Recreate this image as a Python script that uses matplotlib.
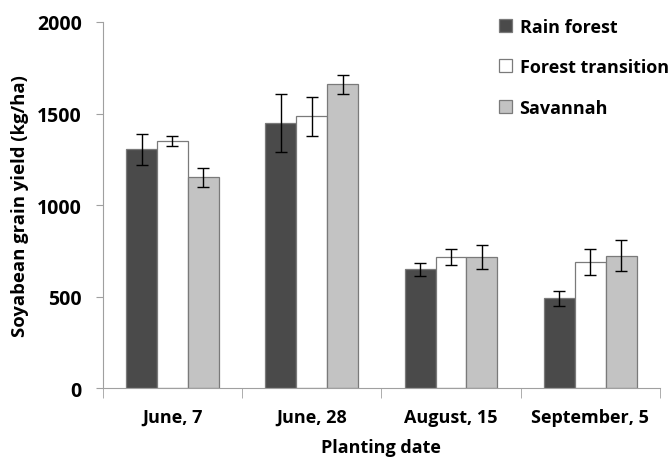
import numpy as np
import matplotlib
matplotlib.use("Agg")
import matplotlib.pyplot as plt

# ---- data ----
dates = ["June, 7", "June, 28", "August, 15", "September, 5"]
series = ["Rain forest", "Forest transition", "Savannah"]

rain_forest = [1305, 1448, 649, 490]
forest_transition = [1351, 1485, 717, 687]
savannah = [1151, 1659, 717, 723]

rain_err = [85, 160, 35, 43]
transition_err = [28, 105, 45, 71]
savannah_err = [50, 54, 67, 85]

values = [rain_forest, forest_transition, savannah]
errors = [rain_err, transition_err, savannah_err]
colors = ["#4a4a4a", "#ffffff", "#c3c3c3"]

plt.rcParams["font.family"] = ["Open Sans", "DejaVu Sans"]
plt.rcParams["font.weight"] = "bold"

fig = plt.figure(figsize=(6.72, 4.6), dpi=100)
ax = fig.add_axes([0.153, 0.154, 0.829, 0.796])

x = np.arange(len(dates))
width = 0.222
for i, (vals, errs, col) in enumerate(zip(values, errors, colors)):
    ax.bar(x + (i - 1) * width, vals, width, color=col, edgecolor="#7a7a7a",
           linewidth=0.9, label=series[i], zorder=2,
           yerr=errs, error_kw=dict(ecolor="black", elinewidth=1.0,
                                    capsize=4, capthick=1.0))

ax.set_xlim(-0.5, len(dates) - 0.5)
ax.set_ylim(0, 2000)
ax.set_yticks([0, 500, 1000, 1500, 2000])
ax.set_xticks(x)
ax.set_xticklabels(dates)
ax.set_xticks(np.arange(-0.5, len(dates)), minor=True)
ax.tick_params(axis="x", which="major", length=0, pad=14, labelsize=13)
ax.tick_params(axis="x", which="minor", length=7, color="#a0a0a0")
ax.tick_params(axis="y", length=5, color="#a0a0a0", labelsize=14, pad=10)

for s in ["top", "right"]:
    ax.spines[s].set_visible(False)
for s in ["left", "bottom"]:
    ax.spines[s].set_color("#a0a0a0")

ax.set_ylabel("Soyabean grain yield (kg/ha)", fontsize=13.3, fontweight="bold",
              labelpad=6)
ax.set_xlabel("Planting date", fontsize=13, fontweight="bold", labelpad=9)

fig.legend(loc="upper left", bbox_to_anchor=(0.718, 0.995), frameon=False,
           fontsize=13, handlelength=0.75, handleheight=0.75,
           handletextpad=0.4, labelspacing=1.25)

fig.savefig("out.png", dpi=100)
